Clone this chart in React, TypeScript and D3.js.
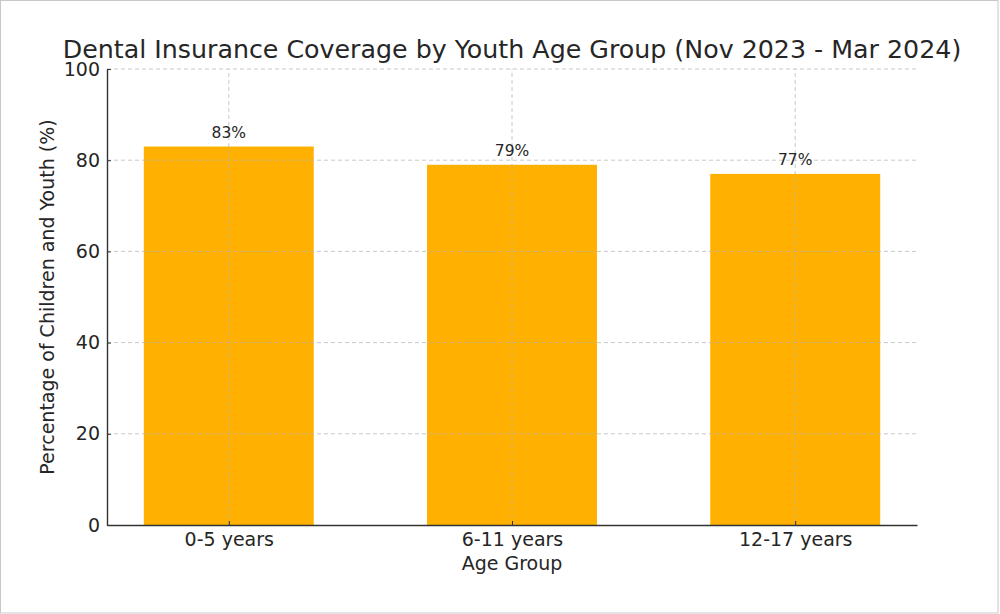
import * as d3 from "d3";
import { useRef, useEffect } from "react";

const ageGroups = ["0-5 years", "6-11 years", "12-17 years"];
const coverage = [83, 79, 77];
const yTicks = [0, 20, 40, 60, 80, 100];

const title = "Dental Insurance Coverage by Youth Age Group (Nov 2023 - Mar 2024)";
const xLabel = "Age Group";
const yLabel = "Percentage of Children and Youth (%)";

export default function App({
  width = 1000,
  height = 614,
  marginTop = 69,
  marginRight = 83,
  marginBottom = 89,
  marginLeft = 107,
}) {
  const gx = useRef(null);
  const gy = useRef(null);
  const font = "DejaVu Sans, sans-serif";
  const textColor = "#262626";

  // matplotlib style x range: bars of width 0.6 with 5% margins
  const x = d3
    .scaleLinear()
    .domain([-0.43, ageGroups.length - 1 + 0.43])
    .range([marginLeft, width - marginRight]);

  const y = d3
    .scaleLinear()
    .domain([0, 100])
    .range([height - marginBottom, marginTop]);

  const barW = x(0.6) - x(0);

  useEffect(() => {
    const xAxis = d3
      .axisBottom(x)
      .tickValues(ageGroups.map((d, i) => i))
      .tickFormat((i) => ageGroups[i])
      .tickSizeInner(-4)
      .tickSizeOuter(0)
      .tickPadding(8);
    const g = d3.select(gx.current).call(xAxis);
    g.select(".domain").attr("stroke", "#333").attr("stroke-width", 1.4);
    g.selectAll(".tick line").attr("stroke", "#333");
    g.selectAll(".tick text")
      .attr("font-size", 19)
      .attr("font-family", font)
      .attr("fill", textColor);
  }, []);

  useEffect(() => {
    const yAxis = d3
      .axisLeft(y)
      .tickValues(yTicks)
      .tickSizeInner(-4)
      .tickSizeOuter(0)
      .tickPadding(7);
    const g = d3.select(gy.current).call(yAxis);
    g.select(".domain").attr("stroke", "#333").attr("stroke-width", 1.4);
    g.selectAll(".tick line").attr("stroke", "#333");
    g.selectAll(".tick text")
      .attr("font-size", 19)
      .attr("font-family", font)
      .attr("fill", textColor);
  }, []);

  return (
    <div style={{ position: "absolute", left: 0, top: 0 }}>
      <svg width={width} height={height} style={{ display: "block", background: "#fff" }}>
        <rect x={0.5} y={0.5} width={997.5} height={612.5} fill="none" stroke="#c8c8c8" />
        <text
          x={(x.range()[0] + x.range()[1]) / 2}
          y={58}
          textAnchor="middle"
          fontSize={25.3}
          fontFamily={font}
          fill={textColor}
        >
          {title}
        </text>

        {coverage.map((d, i) => (
          <rect
            key={ageGroups[i]}
            x={x(i) - barW / 2}
            width={barW}
            y={y(d)}
            height={y(0) - y(d)}
            fill="#FFB000"
          />
        ))}

        {/* grid sits on top of the bars */}
        <g stroke="#b0b0b0" strokeOpacity={0.7} strokeDasharray="4,3" strokeWidth={1}>
          {yTicks.slice(1).map((t) => (
            <line key={t} x1={x.range()[0]} x2={x.range()[1]} y1={y(t)} y2={y(t)} />
          ))}
          {ageGroups.map((g, i) => (
            <line key={g} x1={x(i)} x2={x(i)} y1={y(0)} y2={y(100)} />
          ))}
        </g>

        {coverage.map((d, i) => (
          <text
            key={"lbl" + i}
            x={x(i)}
            y={y(d) - 9}
            textAnchor="middle"
            fontSize={15.5}
            fontFamily={font}
            fill={textColor}
          >
            {d}%
          </text>
        ))}

        <g ref={gx} transform={`translate(0,${height - marginBottom})`} />
        <g ref={gy} transform={`translate(${marginLeft},0)`} />

        <text
          x={(x.range()[0] + x.range()[1]) / 2}
          y={570}
          textAnchor="middle"
          fontSize={19}
          fontFamily={font}
          fill={textColor}
        >
          {xLabel}
        </text>
        <text
          transform={`translate(54,${(y.range()[0] + y.range()[1]) / 2}) rotate(-90)`}
          textAnchor="middle"
          fontSize={19}
          fontFamily={font}
          fill={textColor}
        >
          {yLabel}
        </text>
      </svg>
    </div>
  );
}
